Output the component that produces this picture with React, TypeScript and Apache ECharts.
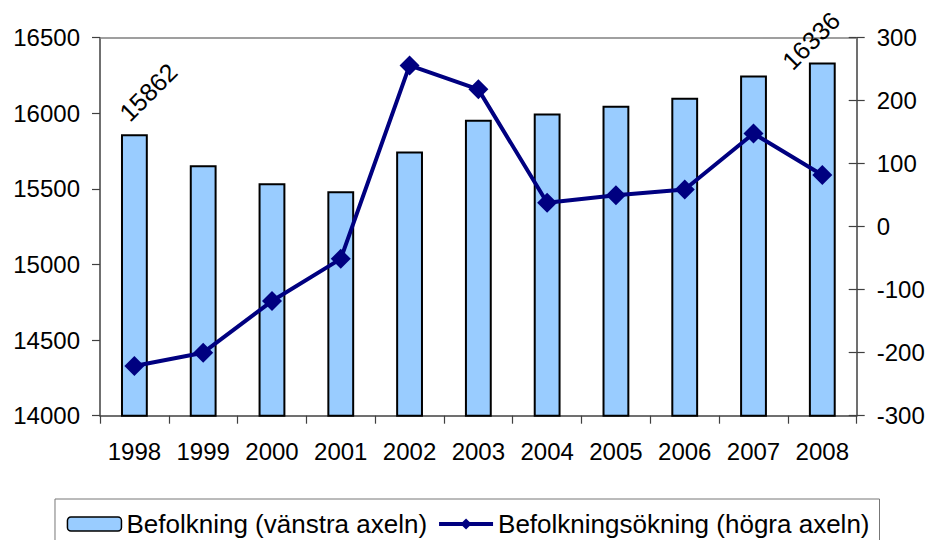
import React, { useEffect, useRef } from "react";
import * as echarts from "echarts";

const years = ["1998", "1999", "2000", "2001", "2002", "2003", "2004", "2005", "2006", "2007", "2008"];
const population = [15862, 15657, 15537, 15484, 15747, 15958, 15998, 16050, 16103, 16250, 16336];
const increase = [-221, -200, -118, -51, 256, 218, 38, 50, 59, 148, 82];
const leftTicks = { min: 14000, max: 16500, interval: 500 };
const rightTicks = { min: -300, max: 300, interval: 100 };
const barName = "Befolkning (vänstra axeln)";
const lineName = "Befolkningsökning (högra axeln)";

const FONT = "Liberation Sans, Arial, sans-serif";

export default function App() {
  const ref = useRef<HTMLDivElement>(null);
  useEffect(() => {
    if (!ref.current) return;
    const chart = echarts.init(ref.current, undefined, { renderer: "svg" });
    const last = population.length - 1;
    const labelOffsets: Record<number, number[]> = { 0: [36, -16.5], [last]: [4, -20] };
    const barData = population.map((v, i) =>
      labelOffsets[i]
        ? {
            value: v,
            label: {
              show: true,
              position: "top",
              distance: 5,
              rotate: 45,
              align: "center",
              verticalAlign: "middle",
              offset: labelOffsets[i],
              fontSize: 25,
              fontFamily: FONT,
              color: "#000",
            },
          }
        : v
    );
    const axisLabel = (margin: number) => ({
      fontSize: 24,
      fontFamily: FONT,
      color: "#000",
      margin,
      formatter: (v: number | string) => String(v),
    });
    chart.setOption({
      animation: false,
      textStyle: { fontFamily: FONT, color: "#000" },
      grid: { left: 100, right: 73.3, top: 37.7, bottom: 124.3, containLabel: false },
      legend: {
        left: 55,
        top: 499,
        orient: "horizontal",
        padding: [12, 10, 12, 11.7],
        borderColor: "#777",
        borderWidth: 1,
        itemWidth: 54,
        itemHeight: 14,
        itemGap: 10,
        textStyle: { fontSize: 26, fontFamily: FONT, color: "#000" },
        data: [
          { name: barName, itemStyle: { borderWidth: 1.5 } },
          { name: lineName, lineStyle: { width: 4, color: "#000080" }, itemStyle: { color: "#000080" } },
        ],
      },
      xAxis: [
        {
          type: "category",
          data: years,
          position: "bottom",
          boundaryGap: true,
          axisLine: { onZero: false, lineStyle: { color: "#404040", width: 1.5 } },
          axisTick: { show: true, length: 8, interval: 0, lineStyle: { color: "#404040", width: 1.2 } },
          axisLabel: { ...axisLabel(24), interval: 0 },
          splitLine: { show: false },
        },
        {
          type: "category",
          data: years,
          position: "top",
          axisLine: { onZero: false, lineStyle: { color: "#808080", width: 1.5 } },
          axisTick: { show: false },
          axisLabel: { show: false },
          splitLine: { show: false },
        },
      ],
      yAxis: [
        {
          type: "value",
          position: "left",
          min: leftTicks.min,
          max: leftTicks.max,
          interval: leftTicks.interval,
          axisLine: { show: true, onZero: false, lineStyle: { color: "#404040", width: 1.5 } },
          axisTick: { show: true, length: 8, lineStyle: { color: "#404040", width: 1.2 } },
          axisLabel: axisLabel(20),
          splitLine: { show: false },
        },
        {
          type: "value",
          position: "right",
          min: rightTicks.min,
          max: rightTicks.max,
          interval: rightTicks.interval,
          axisLine: { show: true, onZero: false, lineStyle: { color: "#404040", width: 1.5 } },
          axisTick: { show: true, length: 8, lineStyle: { color: "#404040", width: 1.2 } },
          axisLabel: axisLabel(20),
          splitLine: { show: false },
        },
        {
          type: "value",
          position: "right",
          min: rightTicks.min,
          max: rightTicks.max,
          interval: rightTicks.interval,
          axisLine: { show: false, onZero: false },
          axisTick: { show: true, inside: true, length: 8, lineStyle: { color: "#404040", width: 1.2 } },
          axisLabel: { show: false },
          splitLine: { show: false },
        },
      ],
      series: [
        {
          name: barName,
          type: "bar",
          xAxisIndex: 0,
          yAxisIndex: 0,
          data: barData,
          barWidth: "39%",
          itemStyle: { color: "#99CCFF", borderColor: "#000", borderWidth: 2 },
          z: 2,
        },
        {
          name: lineName,
          type: "line",
          xAxisIndex: 0,
          yAxisIndex: 1,
          data: increase,
          symbol: "diamond",
          symbolSize: 20,
          lineStyle: { color: "#000080", width: 4 },
          itemStyle: { color: "#000080" },
          z: 3,
        },
      ],
    });
    return () => chart.dispose();
  }, []);
  return (
    <div
      ref={ref}
      style={{ position: "fixed", left: 0, top: 0, width: 930, height: 540, background: "#fff" }}
    />
  );
}
